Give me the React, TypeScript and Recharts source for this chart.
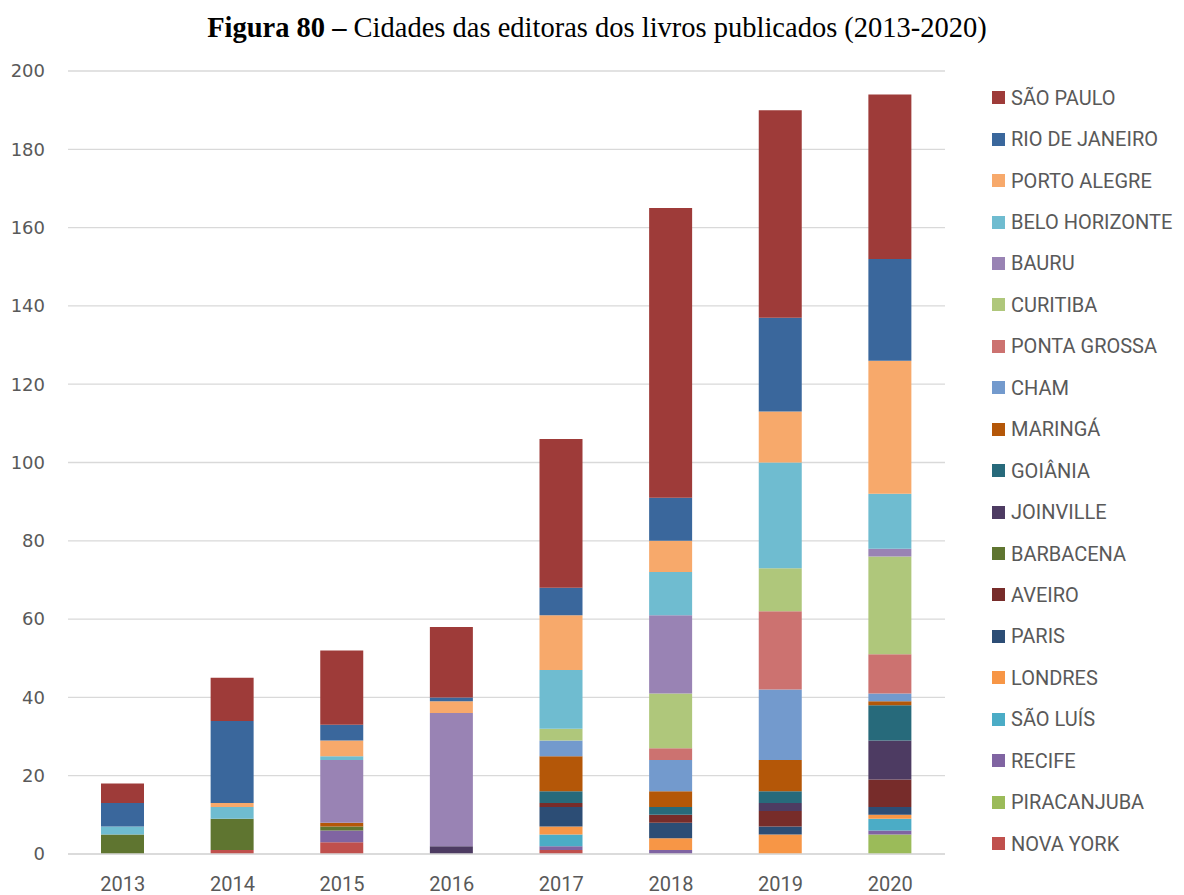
import { BarChart, Bar, XAxis, YAxis, CartesianGrid } from "recharts";

const years = ["2013", "2014", "2015", "2016", "2017", "2018", "2019", "2020"];

// legend order (top of the stack first)
const cities = [
  "SÃO PAULO", "RIO DE JANEIRO", "PORTO ALEGRE", "BELO HORIZONTE", "BAURU",
  "CURITIBA", "PONTA GROSSA", "CHAM", "MARINGÁ", "GOIÂNIA", "JOINVILLE",
  "BARBACENA", "AVEIRO", "PARIS", "LONDRES", "SÃO LUÍS", "RECIFE",
  "PIRACANJUBA", "NOVA YORK",
];

const saoPaulo = [5, 11, 19, 18, 38, 74, 53, 42];
const rioDeJaneiro = [6, 21, 4, 1, 7, 11, 24, 26];
const portoAlegre = [0, 1, 4, 3, 14, 8, 13, 34];
const beloHorizonte = [2, 3, 1, 0, 15, 11, 27, 14];
const bauru = [0, 0, 16, 34, 0, 20, 0, 2];
const curitiba = [0, 0, 0, 0, 3, 14, 11, 25];
const pontaGrossa = [0, 0, 0, 0, 0, 3, 20, 10];
const cham = [0, 0, 0, 0, 4, 8, 18, 2];
const maringa = [0, 0, 1, 0, 9, 4, 8, 1];
const goiania = [0, 0, 0, 0, 3, 2, 3, 9];
const joinville = [0, 0, 0, 2, 0, 0, 2, 10];
const barbacena = [5, 8, 1, 0, 0, 0, 0, 0];
const aveiro = [0, 0, 0, 0, 1, 2, 4, 7];
const paris = [0, 0, 0, 0, 5, 4, 2, 2];
const londres = [0, 0, 0, 0, 2, 3, 5, 1];
const saoLuis = [0, 0, 0, 0, 3, 0, 0, 3];
const recife = [0, 0, 3, 0, 1, 1, 0, 1];
const piracanjuba = [0, 0, 0, 0, 0, 0, 0, 5];
const novaYork = [0, 1, 3, 0, 1, 0, 0, 0];

const yTicks = [0, 20, 40, 60, 80, 100, 120, 140, 160, 180, 200];

const seriesValues = [
  saoPaulo, rioDeJaneiro, portoAlegre, beloHorizonte, bauru, curitiba,
  pontaGrossa, cham, maringa, goiania, joinville, barbacena, aveiro, paris,
  londres, saoLuis, recife, piracanjuba, novaYork,
];

const colors = [
  "#9E3B39", "#3A679C", "#F7A96B", "#6FBCD0", "#9983B4", "#AFC77B",
  "#CC7270", "#739ACD", "#B45708", "#276A7B", "#4D3B62", "#5F7530",
  "#772C2A", "#2C4D75", "#F79646", "#4BACC6", "#8064A2", "#9BBB59",
  "#C0504D",
];

const data = years.map((year, i) => {
  const row: Record<string, string | number> = { year };
  cities.forEach((c, k) => {
    row[c] = seriesValues[k][i];
  });
  return row;
});

const labelColor = "#595959";

export default function App() {
  // draw bottom of the stack first
  const stackOrder = cities.map((_, k) => k).reverse();

  return (
    <div style={{ position: "absolute", left: 0, top: 0, width: 1184, height: 895, background: "#fff" }}>
      <div
        style={{
          position: "absolute", left: 0, top: 12, width: 1194, textAlign: "center",
          fontFamily: "'Liberation Serif', serif", fontSize: 28.5, color: "#000",
        }}
      >
        <b>Figura 80 –</b> Cidades das editoras dos livros publicados (2013-2020)
      </div>

      <BarChart
        width={1184}
        height={895}
        data={data}
        barSize={43}
        margin={{ top: 71, right: 239, left: 8, bottom: 0 }}
      >
        <CartesianGrid vertical={false} stroke="#d9d9d9" strokeWidth={1.3} />
        <XAxis
          dataKey="year"
          axisLine={{ stroke: "#d9d9d9", strokeWidth: 1.3 }}
          tickLine={false}
          tickMargin={17}
          height={41}
          tick={{ fontSize: 20, fill: labelColor, fontFamily: "Roboto" }}
        />
        <YAxis
          domain={[0, 200]}
          ticks={yTicks}
          width={60}
          axisLine={false}
          tickLine={false}
          tickMargin={17}
          tick={{ fontSize: 18, fill: labelColor, fontFamily: "'DejaVu Sans'" }}
        />
        {stackOrder.map((k) => (
          <Bar
            key={cities[k]}
            dataKey={cities[k]}
            stackId="a"
            fill={colors[k]}
            isAnimationActive={false}
          />
        ))}
      </BarChart>

      <div style={{ position: "absolute", left: 992, top: 77 }}>
        {cities.map((c, k) => (
          <div
            key={c}
            style={{ display: "flex", alignItems: "center", height: 41.45, fontFamily: "Roboto", fontSize: 20, color: labelColor }}
          >
            <span style={{ width: 13, height: 13, background: colors[k], marginRight: 6, flex: "none" }} />
            <span>{c}</span>
          </div>
        ))}
      </div>
    </div>
  );
}
